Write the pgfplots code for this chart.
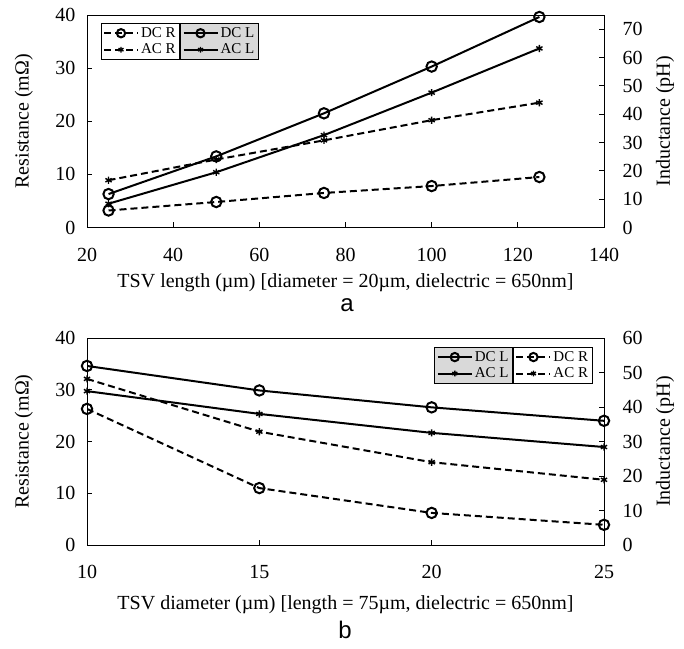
\documentclass[border=0pt]{standalone}
\usepackage{pgfplots}
\pgfplotsset{compat=1.18}
\usepackage{fontspec}
\setmainfont{Liberation Serif}
\newfontfamily\sansfont{Liberation Sans}
\begin{document}
\begin{tikzpicture}[x=1pt,y=1pt]
\path (0,0) rectangle (684,648);
\pgfplotsset{
  base/.style={
    scale only axis, width=517pt,
    axis line style={black, line width=0.9pt},
    tick style={black, line width=0.9pt},
    major tick length=5pt, tick align=inside,
    tick label style={font=\fontsize{20}{20}\selectfont},
    label style={font=\fontsize{20}{22}\selectfont},
    xticklabel shift=17pt,
    /pgf/number format/assume math mode=true,
    legend style={font=\fontsize{15}{16}\selectfont, draw=black, line width=0.9pt, inner sep=2pt, row sep=1pt},
    legend cell align=left,
    legend image code/.code={\draw[mark repeat=2,mark phase=2,##1, every mark/.append style={scale=0.8}] plot coordinates {(0pt,0pt)(17pt,0pt)(34pt,0pt)};},
  },
  dcR/.style={black, line width=2pt, dash pattern=on 7pt off 4pt, mark=o, mark size=5.2pt, mark options={solid}},
  acR/.style={black, line width=2pt, dash pattern=on 7pt off 4pt, mark=asterisk, mark size=3.6pt, mark options={solid, line width=1.4pt}},
  dcL/.style={black, line width=2pt, mark=o, mark size=5.2pt},
  acL/.style={black, line width=2pt, mark=asterisk, mark size=3.6pt, mark options={line width=1.4pt}},
}
% ---------------- panel a ----------------
\begin{axis}[base, at={(87pt,420.5pt)}, anchor=south west, height=212.5pt,
  xmin=20, xmax=140, xtick={20,40,...,140}, ymin=0, ymax=40, ytick={0,10,...,40},
  xtick pos=bottom, ytick pos=left, yticklabel shift=8pt,
  xlabel={TSV length (µm) [diameter = 20µm, dielectric = 650nm]},
  xlabel style={at={(axis description cs:0.5,0)}, anchor=center, yshift=-55pt},
  ylabel={Resistance (mΩ)},
  ylabel style={at={(axis description cs:-0.122,0.5)}, anchor=center},
  legend style={at={(0.180,0.962)}, anchor=north east},
]
\addplot[dcR] coordinates {(25,3.2) (50,4.8) (75,6.5) (100,7.8) (125,9.5)};
\addlegendentry{DC R}
\addplot[acR] coordinates {(25,8.9) (50,12.8) (75,16.4) (100,20.2) (125,23.5)};
\addlegendentry{AC R}
\end{axis}
\begin{axis}[base, at={(87pt,420.5pt)}, anchor=south west, height=212.5pt,
  xmin=20, xmax=140, ymin=0, ymax=75, ytick={0,10,...,70},
  axis x line=none, axis y line*=right, ytick pos=right, yticklabel shift=15pt,
  ylabel={Inductance (pH)},
  ylabel style={at={(axis description cs:1.118,0.5)}, anchor=center},
  legend style={at={(0.180,0.962)}, anchor=north west, fill=black!15},
]
\addplot[dcL] coordinates {(25,11.8) (50,25.1) (75,40.3) (100,56.8) (125,74.3)};
\addlegendentry{DC L}
\addplot[acL] coordinates {(25,8.4) (50,19.5) (75,32.6) (100,47.6) (125,63.2)};
\addlegendentry{AC L}
\end{axis}
\node[font=\sansfont\fontsize{24}{24}\selectfont] at (347pt,343pt) {a};
% ---------------- panel b ----------------
\begin{axis}[base, at={(87pt,103pt)}, anchor=south west, height=207pt,
  xmin=10, xmax=25, xtick={10,15,20,25}, ymin=0, ymax=40, ytick={0,10,...,40},
  xtick pos=bottom, ytick pos=left, yticklabel shift=8pt,
  xlabel={TSV diameter (µm) [length = 75µm, dielectric = 650nm]},
  xlabel style={at={(axis description cs:0.5,0)}, anchor=center, yshift=-60pt},
  ylabel={Resistance (mΩ)},
  ylabel style={at={(axis description cs:-0.122,0.5)}, anchor=center},
  legend style={at={(0.824,0.957)}, anchor=north west},
]
\addplot[dcR] coordinates {(10,26.3) (15,11.0) (20,6.2) (25,3.9)};
\addlegendentry{DC R}
\addplot[acR] coordinates {(10,32.1) (15,21.9) (20,16.0) (25,12.6)};
\addlegendentry{AC R}
\end{axis}
\begin{axis}[base, at={(87pt,103pt)}, anchor=south west, height=207pt,
  xmin=10, xmax=25, ymin=0, ymax=60, ytick={0,10,...,60},
  axis x line=none, axis y line*=right, ytick pos=right, yticklabel shift=15pt,
  ylabel={Inductance (pH)},
  ylabel style={at={(axis description cs:1.118,0.5)}, anchor=center},
  legend style={at={(0.824,0.957)}, anchor=north east, fill=black!15},
]
\addplot[dcL] coordinates {(10,51.9) (15,44.8) (20,39.9) (25,36.0)};
\addlegendentry{DC L}
\addplot[acL] coordinates {(10,44.6) (15,38.0) (20,32.5) (25,28.4)};
\addlegendentry{AC L}
\end{axis}
\node[font=\sansfont\fontsize{24}{24}\selectfont] at (345pt,18pt) {b};
\end{tikzpicture}
\end{document}
